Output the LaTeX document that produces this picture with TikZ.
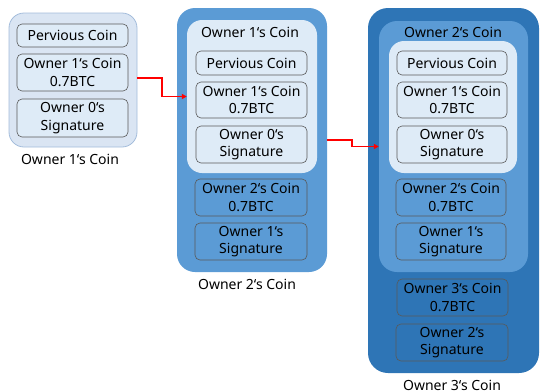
\documentclass[tikz,border=0pt]{standalone}
\usepackage{fontspec}
\setmainfont{Noto Sans}
\usetikzlibrary{arrows.meta}
\definecolor{pale}{HTML}{DEEBF7}
\definecolor{paleA}{HTML}{DAE5F3}
\definecolor{paleB}{HTML}{A3BCDB}
\definecolor{midblue}{HTML}{5B9BD5}
\definecolor{darkblue}{HTML}{2E75B6}
\definecolor{edge}{HTML}{595959}
\definecolor{arrowred}{HTML}{FF0000}
\newcommand{\bq}{\char"0060{}}
\tikzset{
  panel/.style={rounded corners=#1, inner sep=0pt},
  item/.style={draw=edge, line width=0.6pt, rounded corners=5pt, align=center, inner sep=0pt, font=\fontsize{14}{17.5}\selectfont},
  coinlabel/.style={font=\fontsize{14}{17.5}\selectfont, inner sep=0pt},
  link/.style={draw=arrowred, line width=1.5pt, -{Triangle[length=5pt,width=5pt]}},
}
\begin{document}
\begin{tikzpicture}[x=1pt,y=-1pt]
\useasboundingbox (0,0) rectangle (543,391);
% ---- panel 1
\node[panel=15pt, fill=paleA, draw=paleB, line width=0.8pt, minimum width=128pt, minimum height=134pt] (p1) at (73,80) {};
\node[item, fill=pale, minimum width=111pt, minimum height=23pt] (p1a) at (72.5,35.5) {Pervious Coin};
\node[item, fill=pale, minimum width=111pt, minimum height=37pt] (p1b) at (72.5,72.5) {Owner 1\bq s Coin\\0.7BTC};
\node[item, fill=pale, minimum width=111pt, minimum height=38pt] (p1c) at (72.5,118) {Owner 0\bq s\\Signature};
\node[coinlabel] (l1) at (70,159) {Owner 1\bq s Coin};
% ---- panel 2
\node[panel=18pt, fill=midblue, minimum width=150pt, minimum height=264pt] (p2) at (252,140) {};
\node[panel=15pt, fill=pale, minimum width=130pt, minimum height=153pt] (p2i) at (252,96.5) {};
\node[coinlabel] (t2) at (250,32) {Owner 1\bq s Coin};
\node[item, fill=pale, minimum width=111pt, minimum height=24pt] (p2a) at (251.5,63) {Pervious Coin};
\node[item, fill=pale, minimum width=111pt, minimum height=36pt] (p2b) at (251.5,100) {Owner 1\bq s Coin\\0.7BTC};
\node[item, fill=pale, minimum width=111pt, minimum height=37pt] (p2c) at (251.5,144.5) {Owner 0\bq s\\Signature};
\node[item, fill=midblue, minimum width=112pt, minimum height=37pt] (p2d) at (251,197.5) {Owner 2\bq s Coin\\0.7BTC};
\node[item, fill=midblue, minimum width=112pt, minimum height=37pt] (p2e) at (251,241.5) {Owner 1\bq s\\Signature};
\node[coinlabel] (l2) at (247,284) {Owner 2\bq s Coin};
% ---- panel 3
\node[panel=20pt, fill=darkblue, minimum width=171pt, minimum height=365pt] (p3) at (453.5,190.5) {};
\node[panel=18pt, fill=midblue, minimum width=149pt, minimum height=251pt] (p3m) at (453.5,146.5) {};
\node[panel=15pt, fill=pale, minimum width=128pt, minimum height=132pt] (p3i) at (453,107) {};
\node[coinlabel] (t3) at (453,32) {Owner 2\bq s Coin};
\node[item, fill=pale, minimum width=110pt, minimum height=24pt] (p3a) at (452,63) {Pervious Coin};
\node[item, fill=pale, minimum width=110pt, minimum height=36pt] (p3b) at (452,100) {Owner 1\bq s Coin\\0.7BTC};
\node[item, fill=pale, minimum width=110pt, minimum height=37pt] (p3c) at (452,144.5) {Owner 0\bq s\\Signature};
\node[item, fill=midblue, minimum width=110pt, minimum height=37pt] (p3d) at (451,197.5) {Owner 2\bq s Coin\\0.7BTC};
\node[item, fill=midblue, minimum width=110pt, minimum height=37pt] (p3e) at (451,241.5) {Owner 1\bq s\\Signature};
\node[item, fill=darkblue, minimum width=111pt, minimum height=37pt] (p3f) at (452.5,297.5) {Owner 3\bq s Coin\\0.7BTC};
\node[item, fill=darkblue, minimum width=112pt, minimum height=37pt] (p3g) at (452,342.5) {Owner 2\bq s\\Signature};
\node[coinlabel] (l3) at (452,385) {Owner 3\bq s Coin};
% ---- connectors
\coordinate (s1) at ([yshift=2pt]p1.east);
\coordinate (k1) at (162,78);
\coordinate (k2) at (162,96.5);
\draw[link] (s1) -- (k1) -- (k2) -- (p2i.west);
\coordinate (k3) at (352,140);
\coordinate (k4) at (352,146.5);
\draw[link] (p2.east) -- (k3) -- (k4) -- (p3m.west);
\end{tikzpicture}
\end{document}
